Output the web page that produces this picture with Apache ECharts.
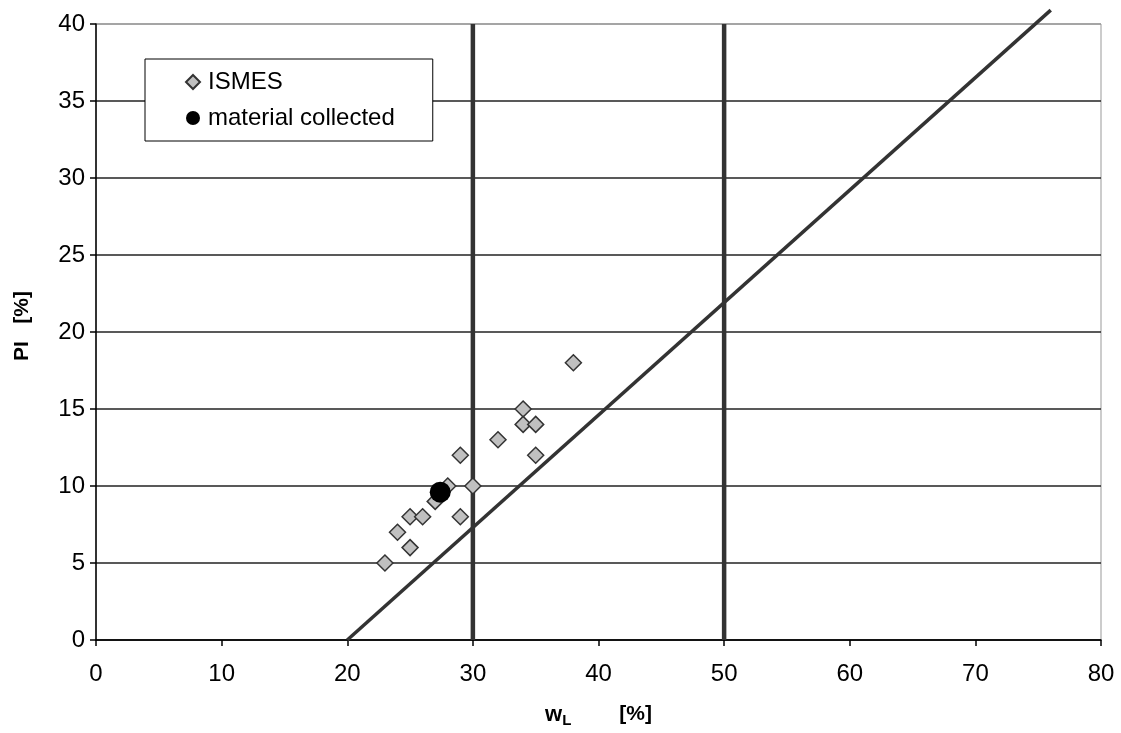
<!DOCTYPE html>
<html>
<head>
<meta charset="utf-8">
<script src="https://cdn.jsdelivr.net/npm/echarts@6/dist/echarts.min.js"></script>
<style>
  html, body { margin: 0; padding: 0; background: #fff; }
  #chart { width: 1121px; height: 733px; }
</style>
</head>
<body>
<div id="chart"></div>
<script>
// Plasticity chart: liquid limit wL vs plasticity index PI
const xTicks = [0, 10, 20, 30, 40, 50, 60, 70, 80];
const yTicks = [0, 5, 10, 15, 20, 25, 30, 35, 40];

// ISMES samples [wL, PI]
const ismesWL = [38, 34, 34, 35, 32, 29, 35, 28, 30, 27, 25, 26, 29, 24, 25, 23];
const ismesPI = [18, 15, 14, 14, 13, 12, 12, 10, 10, 9, 8, 8, 8, 7, 6, 5];

// collected material [wL, PI]
const collectedWL = [27.4];
const collectedPI = [9.6];

// A-line end points
const aLineWL = [20, 76];
const aLinePI = [0, 40.9];

// vertical wL boundaries
const boundaryWL = [30, 50];

const FONT = '"Liberation Sans", Arial, sans-serif';

const ismes = ismesWL.map((w, i) => [w, ismesPI[i]]);
const collected = collectedWL.map((w, i) => [w, collectedPI[i]]);
const aLine = aLineWL.map((w, i) => [w, aLinePI[i]]);

const boundarySeries = boundaryWL.map(w => ({
  type: 'line',
  data: [[w, yTicks[0]], [w, yTicks[yTicks.length - 1]]],
  symbol: 'none',
  silent: true,
  lineStyle: { color: '#333', width: 4.5 },
  z: 3
}));

const chart = echarts.init(document.getElementById('chart'), null, { renderer: 'canvas' });
chart.setOption({
  animation: false,
  backgroundColor: '#fff',
  grid: {
    left: 96, right: 20, top: 24, bottom: 92,
    show: true, borderColor: '#999', borderWidth: 1
  },
  legend: {
    orient: 'vertical',
    left: 145, top: 59,
    backgroundColor: '#fff',
    borderColor: '#000', borderWidth: 1,
    padding: [10, 38, 10, 40],
    itemGap: 10,
    itemWidth: 14, itemHeight: 14,
    formatter: '{t|{name}}',
    textStyle: {
      fontFamily: FONT, fontSize: 24, color: '#000', lineHeight: 26,
      rich: { t: { fontFamily: FONT, fontSize: 24, color: '#000', lineHeight: 26, padding: [0, 0, 0, 3] } }
    },
    data: ['ISMES', 'material collected']
  },
  xAxis: {
    type: 'value',
    min: xTicks[0], max: xTicks[xTicks.length - 1], interval: 10,
    axisLine: { show: true, onZero: false, lineStyle: { color: '#000', width: 1.5 } },
    axisTick: { show: true, length: 6, lineStyle: { color: '#000', width: 1.5 } },
    axisLabel: { fontFamily: FONT, fontSize: 24, color: '#000', margin: 22 },
    splitLine: { show: false },
    name: '{w|w}{sub|L}{sp| }{u|[%]}',
    nameLocation: 'middle',
    nameGap: 61,
    nameTextStyle: {
      rich: {
        w: { fontFamily: FONT, fontSize: 22, fontWeight: 'bold', color: '#000' },
        sub: { fontFamily: FONT, fontSize: 15, fontWeight: 'bold', color: '#000', padding: [12, 0, 0, 0] },
        sp: { width: 48, fontSize: 21 },
        u: { fontFamily: FONT, fontSize: 21, fontWeight: 'bold', color: '#000' }
      }
    }
  },
  yAxis: {
    type: 'value',
    min: yTicks[0], max: yTicks[yTicks.length - 1], interval: 5,
    axisLine: { show: true, lineStyle: { color: '#000', width: 1.5 } },
    axisTick: { show: true, length: 6, lineStyle: { color: '#000', width: 1.5 } },
    axisLabel: { fontFamily: FONT, fontSize: 24, color: '#000', margin: 11 },
    splitLine: {
      show: true,
      lineStyle: { color: ['#222', '#222', '#222', '#222', '#222', '#222', '#222', '#222', '#999'], width: 1.5 }
    },
    name: 'PI   [%]',
    nameLocation: 'middle',
    nameGap: 63,
    nameTextStyle: { fontFamily: FONT, fontSize: 21, fontWeight: 'bold', color: '#000', padding: [0, 0, 0, 12] }
  },
  series: [
    ...boundarySeries,
    {
      type: 'line',
      data: aLine,
      symbol: 'none',
      silent: true,
      clip: false,
      lineStyle: { color: '#333', width: 3.5 },
      z: 3
    },
    {
      name: 'ISMES',
      type: 'scatter',
      data: ismes,
      symbol: 'diamond',
      symbolSize: 16,
      itemStyle: { color: '#c0c0c0', borderColor: '#333', borderWidth: 1.5, opacity: 1 },
      z: 5
    },
    {
      name: 'material collected',
      type: 'scatter',
      data: collected,
      symbol: 'circle',
      symbolSize: 21,
      itemStyle: { color: '#000', opacity: 1 },
      z: 6
    }
  ]
});
</script>
</body>
</html>
